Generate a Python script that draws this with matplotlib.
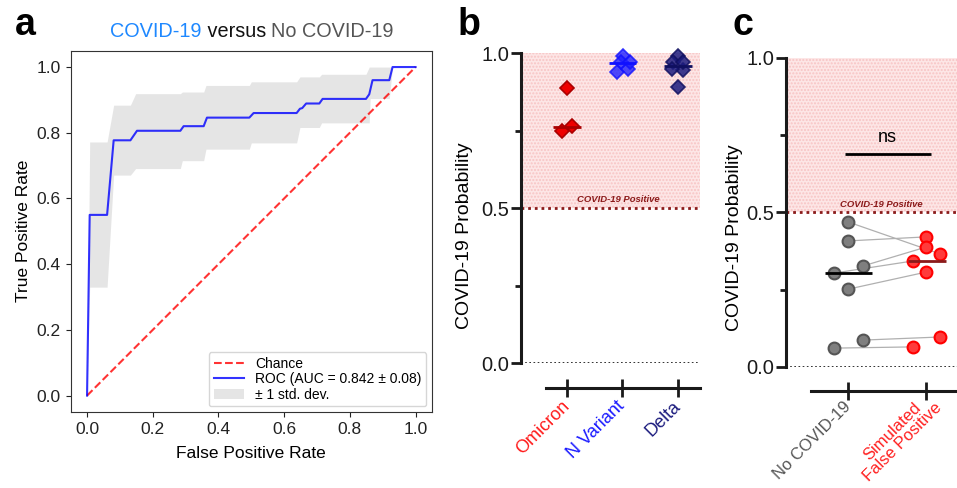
import matplotlib
matplotlib.use("Agg")
import matplotlib.pyplot as plt
from matplotlib.lines import Line2D
from matplotlib.patches import Patch
from matplotlib.transforms import ScaledTranslation

plt.rcParams['font.family'] = ['Liberation Sans', 'DejaVu Sans']

# ---- panel a: ROC curve (mean) and +/- 1 std band ----
roc_fpr = [0.0, 0.008, 0.061, 0.081, 0.132, 0.152, 0.284, 0.294, 0.355, 0.365,
           0.494, 0.507, 0.638, 0.648, 0.655, 0.667, 0.707, 0.717, 0.849, 0.859,
           0.869, 0.920, 0.930, 1.0]
roc_tpr = [0.0, 0.55, 0.55, 0.777, 0.777, 0.806, 0.806, 0.82, 0.82, 0.846,
           0.846, 0.86, 0.86, 0.873, 0.875, 0.889, 0.889, 0.903, 0.903, 0.917,
           0.96, 0.96, 1.0, 1.0]

band_fpr = [0.0, 0.008, 0.061, 0.081, 0.132, 0.148, 0.284, 0.290, 0.355, 0.362,
            0.494, 0.500, 0.638, 0.648, 0.707, 0.714, 0.849, 0.859, 0.862, 0.920,
            0.930, 1.0]
band_lower = [0.0, 0.33, 0.33, 0.671, 0.671, 0.691, 0.691, 0.715, 0.715, 0.75,
              0.75, 0.769, 0.769, 0.816, 0.816, 0.83, 0.83, 0.83, 0.904, 0.904,
              1.0, 1.0]
band_upper = [0.0, 0.772, 0.772, 0.884, 0.884, 0.919, 0.919, 0.924, 0.924, 0.944,
              0.944, 0.955, 0.955, 0.97, 0.97, 0.978, 0.978, 1.0, 1.0, 1.0,
              1.0, 1.0]

# ---- panel b: variants ----
variants = ['Omicron', 'N Variant', 'Delta']
omicron_vals = [0.887, 0.748, 0.765]
omicron_jit = [0.0, -0.09, 0.09]
nvariant_vals = [0.99, 0.97, 0.94, 0.95, 0.97]
nvariant_jit = [0.02, -0.03, -0.09, 0.10, 0.13]
delta_vals = [0.99, 0.97, 0.945, 0.95, 0.89, 0.97]
delta_jit = [0.0, -0.09, 0.09, -0.11, 0.0, 0.09]
variant_medians = [0.762, 0.968, 0.958]

# ---- panel c: paired no covid vs simulated false positive ----
groups_c = ['No COVID-19', 'Simulated\nFalse Positive']
no_covid = [0.469, 0.408, 0.327, 0.304, 0.252, 0.087, 0.061]
no_covid_jit = [0.0, 0.0, 0.19, -0.18, 0.0, 0.19, -0.18]
sim_fp = [0.366, 0.421, 0.388, 0.343, 0.307, 0.097, 0.065]
sim_fp_jit = [0.18, 0.0, 0.0, -0.17, 0.0, 0.18, -0.17]
c_medians = [0.304, 0.343]

fig = plt.figure(figsize=(9.57, 4.88), dpi=100)

# ================= panel a =================
ax = fig.add_axes([0.0738, 0.1557, 0.3776, 0.7406])
ax.fill_between(band_fpr, band_lower, band_upper, color='grey', alpha=0.2, lw=0)
ax.plot([0, 1], [0, 1], ls='--', lw=1.5, color='r', alpha=0.8)
ax.plot(roc_fpr, roc_tpr, color='b', lw=1.5, alpha=0.8)
ax.set_xlim(-0.05, 1.05)
ax.set_ylim(-0.05, 1.05)
ax.set_xlabel('False Positive Rate', fontsize=12.5, labelpad=7)
ax.set_ylabel('True Positive Rate', fontsize=12.5)
ax.tick_params(labelsize=12.5, colors='#222222')
for s in ax.spines.values():
    s.set_color('#333333')
handles = [Line2D([], [], ls='--', lw=1.5, color='r', alpha=0.8),
           Line2D([], [], lw=1.5, color='b', alpha=0.8),
           Patch(facecolor='grey', alpha=0.2, lw=0)]
ax.legend(handles, ['Chance', 'ROC (AUC = 0.842 \u00b1 0.08)', '\u00b1 1 std. dev.'],
          loc='lower right', fontsize=10, handlelength=2.2, borderpad=0.35,
          labelspacing=0.1, handletextpad=0.8, borderaxespad=0.4)

# multi-coloured title
t1 = fig.text(110 / 957, 1 - 37 / 488, 'COVID-19', color='#1e88ff', fontsize=14.3)
t2 = ax.annotate(' versus ', xy=(1, 0), xycoords=t1, va='bottom', ha='left',
                 color='#111111', fontsize=14.3)
t3 = ax.annotate('No COVID-19', xy=(1, 0), xycoords=t2, va='bottom', ha='left',
                 color='#555555', fontsize=14.3)

# panel letters
for lx, letter in [(15, 'a'), (458, 'b'), (733, 'c')]:
    fig.text(lx / 957, 1 - 35 / 488, letter, fontsize=27, fontweight='bold')

pink = '#fde6e6'
dark_red = '#8b1a1a'


def prism_axes(a, xmin, xmax, bottom_start, outward, xlabsize, xpad):
    a.set_xlim(xmin, xmax)
    a.set_ylim(0, 1)
    a.spines['top'].set_visible(False)
    a.spines['right'].set_visible(False)
    a.spines['left'].set_bounds(0, 1)
    a.spines['left'].set_linewidth(2.2)
    a.spines['left'].set_color('#1a1a1a')
    a.spines['bottom'].set_position(('outward', outward))
    a.spines['bottom'].set_bounds(bottom_start, xmax)
    a.spines['bottom'].set_linewidth(2.2)
    a.spines['bottom'].set_color('#1a1a1a')
    a.set_yticks([0, 0.5, 1.0])
    a.set_yticklabels(['0.0', '0.5', '1.0'])
    a.set_yticks([0.25, 0.75], minor=True)
    a.tick_params(axis='y', which='major', length=7, width=2, labelsize=14.5,
                  color='#1a1a1a', labelcolor='#1a1a1a', pad=1.5)
    a.tick_params(axis='y', which='minor', length=4, width=2, color='#1a1a1a')
    a.tick_params(axis='x', direction='inout', length=13, width=2,
                  color='#1a1a1a', labelsize=xlabsize, pad=xpad)
    a.axhspan(0.5, 1.0, facecolor=pink, edgecolor='#f7c4c4', hatch='.....',
              lw=0, zorder=0)
    a.axhline(0.5, color=dark_red, ls=(0, (1, 1.4)), lw=2, zorder=1)
    a.axhline(0.0, color='#111111', ls=(0, (1, 1.5)), lw=1.2, zorder=1)
    a.set_ylabel('COVID-19 Probability', fontsize=14)


# ================= panel b =================
bx = fig.add_axes([0.5444, 0.2561, 0.1870, 0.6352])
prism_axes(bx, -0.83, 2.4, -0.38, 18, 13, 5)
bx.yaxis.set_label_coords(-0.27, 0.41)
bx.text(0.92, 0.512, 'COVID-19 Positive', color=dark_red, fontsize=6.8,
        fontweight='bold', fontstyle='italic', ha='center', va='bottom')

b_series = [(omicron_vals, omicron_jit, '#ee0000', '#aa0000', 1.0),
            (nvariant_vals, nvariant_jit, '#2020ff', '#1010ff', 0.8),
            (delta_vals, delta_jit, '#1c1c7e', '#101060', 0.85)]
b_colors = ['#ff1a1a', '#1a1aff', '#1c1c7e']
for i, (vals, jit, fc, ec, al) in enumerate(b_series):
    xs = [i + j for j in jit]
    bx.plot(xs, vals, ls='none', marker='D', ms=7.5, mfc=fc, mec=ec, mew=1.2,
            alpha=al, clip_on=False, zorder=3)
    bx.plot([i - 0.25, i + 0.25], [variant_medians[i]] * 2, color=ec, lw=2,
            solid_capstyle='butt', zorder=4, clip_on=False)
bx.set_xticks(range(len(variants)))
bx.set_xticklabels(variants, rotation=45, ha='right', va='center',
                   rotation_mode='anchor')
for lab, col in zip(bx.get_xticklabels(), b_colors):
    lab.set_color(col)

# ================= panel c =================
cx = fig.add_axes([0.8213, 0.2480, 0.1787, 0.6332])
prism_axes(cx, -0.805, 1.4, -0.48, 17, 12, 3.5)
cx.yaxis.set_label_coords(-0.25, 0.42)
cx.text(0.42, 0.512, 'COVID-19 Positive', color=dark_red, fontsize=6.8,
        fontweight='bold', fontstyle='italic', ha='center', va='bottom')

for y0, j0, y1, j1 in zip(no_covid, no_covid_jit, sim_fp, sim_fp_jit):
    cx.plot([0 + j0, 1 + j1], [y0, y1], color='#b0b0b0', lw=0.9, zorder=2)
cx.plot([j for j in no_covid_jit], no_covid, ls='none', marker='o', ms=8.5,
        mfc='#7f7f7f', mec='#555555', mew=1.5, zorder=3)
cx.plot([1 + j for j in sim_fp_jit], sim_fp, ls='none', marker='o', ms=8.5,
        mfc='#ff3b3b', mec='#ff0000', mew=1.5, zorder=3)
cx.plot([-0.3, 0.31], [c_medians[0]] * 2, color='black', lw=2, zorder=4,
        solid_capstyle='butt')
cx.plot([0.77, 1.26], [c_medians[1]] * 2, color=dark_red, lw=2, zorder=4,
        solid_capstyle='butt')
cx.plot([-0.04, 1.06], [0.69, 0.69], color='black', lw=2, solid_capstyle='butt')
cx.text(0.5, 0.715, 'ns', fontsize=13, ha='center', va='bottom')
cx.set_xticks(range(len(groups_c)))
cx.set_xticklabels(groups_c, rotation=45, ha='right', va='center',
                   rotation_mode='anchor', multialignment='center',
                   linespacing=1.0)
c_labels = cx.get_xticklabels()
for lab, col in zip(c_labels, ['#555555', '#ff2020']):
    lab.set_color(col)
# two-line label sits a little to the right of its tick in the original
c_labels[1].set_transform(c_labels[1].get_transform() +
                          ScaledTranslation(6 / 72, 3 / 72, fig.dpi_scale_trans))

fig.savefig('out.png', dpi=100)
